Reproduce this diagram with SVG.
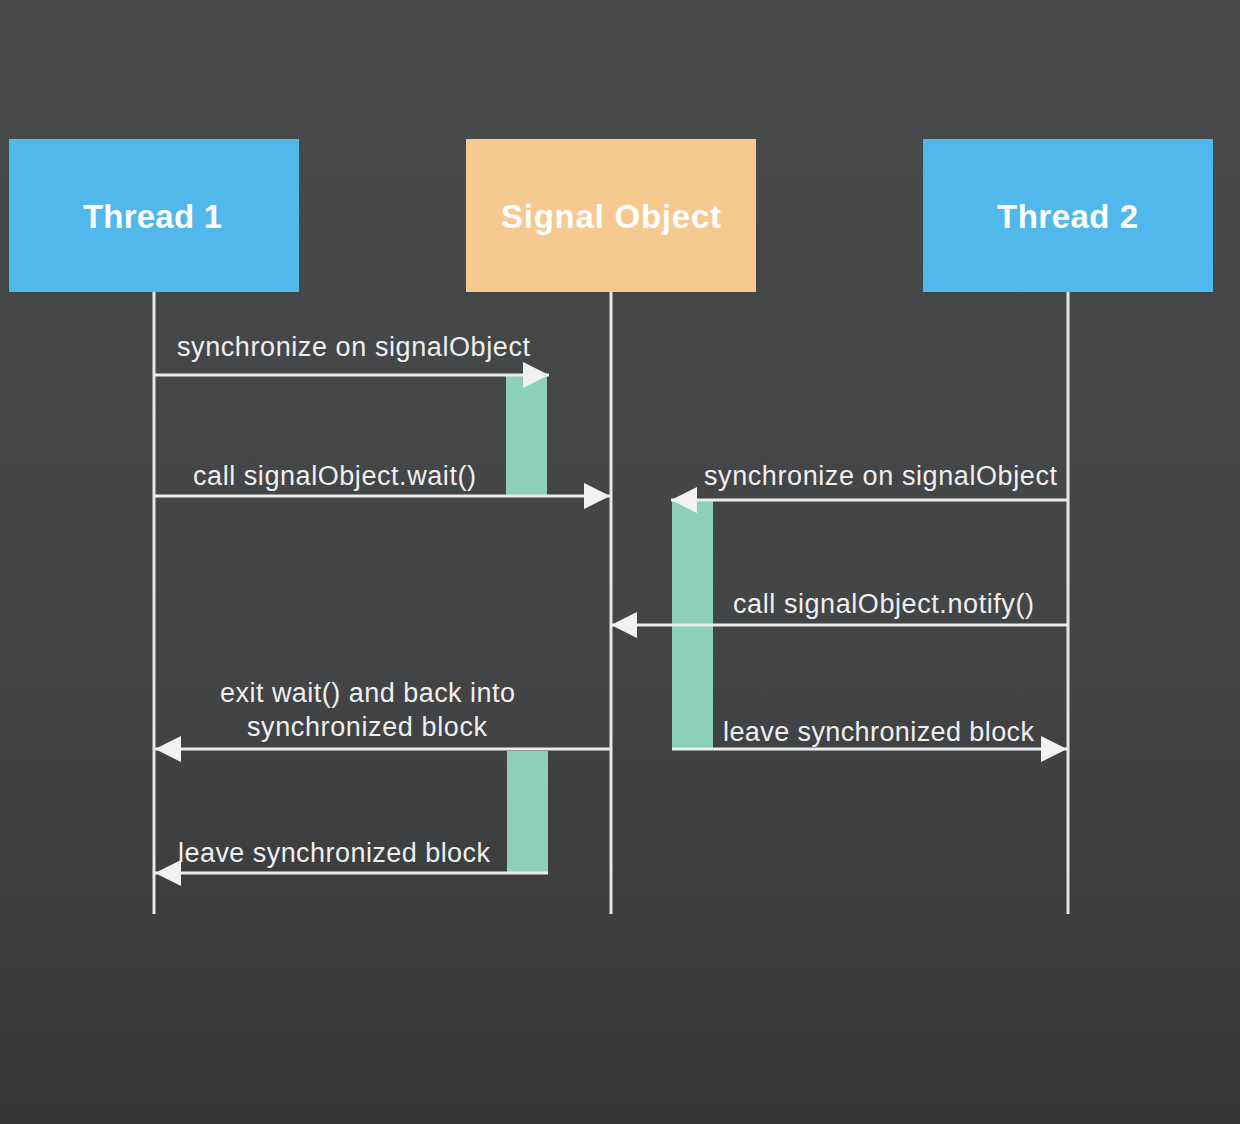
<svg xmlns="http://www.w3.org/2000/svg" width="1240" height="1124" viewBox="0 0 1240 1124">
<defs>
<linearGradient id="bg" x1="0" y1="0" x2="0" y2="1">
<stop offset="0" stop-color="#48494b"/>
<stop offset="0.6" stop-color="#434446"/>
<stop offset="1" stop-color="#353636"/>
</linearGradient>
<marker id="ah" markerUnits="userSpaceOnUse" markerWidth="28" markerHeight="28" refX="26" refY="13" orient="auto">
<path d="M0,0 L26,13 L0,26 Z" fill="#f2f2f2"/>
</marker>
</defs>
<style>
.life{stroke:#e6e6e6;stroke-width:3;fill:none}
.msg{stroke:#ececec;stroke-width:3;fill:none;marker-end:url(#ah)}
.bar{fill:#8dd0ba}
.lbl{font-family:"Liberation Sans",Arial,sans-serif;font-size:27px;fill:#efefef}
.ttl{font-family:"Liberation Sans",Arial,sans-serif;font-size:33px;font-weight:bold;fill:#ffffff}
</style>
<rect x="0" y="0" width="1240" height="1124" fill="url(#bg)"/>
<g id="lifelines">
<line class="life" x1="154" y1="292" x2="154" y2="914"/>
<line class="life" x1="611" y1="292" x2="611" y2="914"/>
<line class="life" x1="1068" y1="292" x2="1068" y2="914"/>
</g>
<g id="thread1">
<rect x="9" y="139" width="290" height="153" fill="#50b8ea"/>
<text class="ttl" x="83" y="228" textLength="139">Thread 1</text>
</g>
<g id="signalObject">
<rect x="466" y="139" width="290" height="153" fill="#f5c98f"/>
<text class="ttl" x="501" y="228" textLength="220" fill="#fdf5e8">Signal Object</text>
</g>
<g id="thread2">
<rect x="923" y="139" width="290" height="153" fill="#50b8ea"/>
<text class="ttl" x="997" y="228" textLength="141">Thread 2</text>
</g>
<g id="activations">
<rect class="bar" x="506" y="376" width="41" height="120"/>
<rect class="bar" x="672" y="501" width="41" height="248"/>
<rect class="bar" x="507" y="751" width="41" height="122" fill="#86bfad"/>
</g>
<g id="connectors">
<line class="msg" x1="154" y1="375" x2="549" y2="375"/>
<line class="msg" x1="154" y1="496" x2="610" y2="496"/>
<line class="msg" x1="1068" y1="500" x2="671" y2="500"/>
<line class="msg" x1="1068" y1="625" x2="611" y2="625"/>
<line class="msg" x1="611" y1="749" x2="155" y2="749"/>
<line class="msg" x1="548" y1="873" x2="155" y2="873"/>
<line class="msg" x1="672" y1="749" x2="1067" y2="749"/>
</g>
<g id="labels">
<text class="lbl" x="177" y="356" textLength="353">synchronize on signalObject</text>
<text class="lbl" x="193" y="485" textLength="283">call signalObject.wait()</text>
<text class="lbl" x="704" y="485" textLength="353">synchronize on signalObject</text>
<text class="lbl" x="733" y="613" textLength="301">call signalObject.notify()</text>
<text class="lbl" x="220" y="702" textLength="295">exit wait() and back into</text>
<text class="lbl" x="247" y="736" textLength="240">synchronized block</text>
<text class="lbl" x="178" y="862" textLength="312">leave synchronized block</text>
<text class="lbl" x="723" y="741" textLength="311">leave synchronized block</text>
</g>
</svg>
